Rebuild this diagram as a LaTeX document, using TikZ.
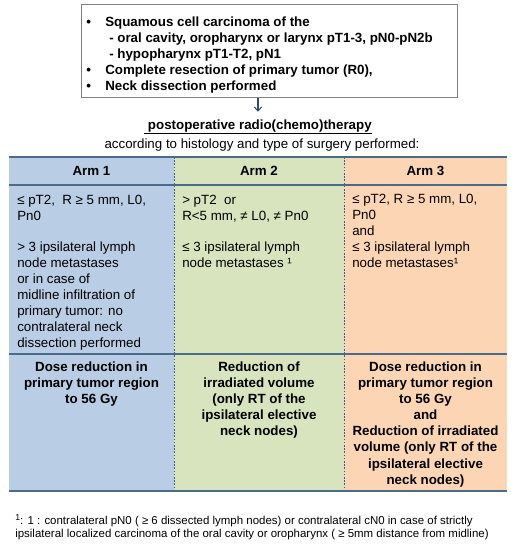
\documentclass[tikz,border=0pt]{standalone}
\usepackage{fontspec}
\setmainfont{Liberation Sans}
\usetikzlibrary{arrows.meta}
\definecolor{armblue}{HTML}{B9CDE5}
\definecolor{armgreen}{HTML}{D7E4BD}
\definecolor{armorange}{HTML}{FCD5B5}
\definecolor{rulecol}{HTML}{4A6B8C}
\definecolor{divcol}{HTML}{3B5F8F}
\definecolor{boxgray}{HTML}{808080}
\definecolor{arrowcol}{HTML}{2E4A75}
\newcommand{\fst}{\rule{0pt}{9pt}}
\newcommand{\sst}{\rule{0pt}{8pt}}
\begin{document}
\begin{tikzpicture}[x=0.75pt,y=-0.75pt,
  txt/.style={inner sep=0pt, align=left, font=\fontsize{10}{12}\selectfont},
  btxt/.style={inner sep=0pt, align=left, font=\fontsize{10}{12}\selectfont\bfseries},
  ctxt/.style={inner sep=0pt, align=center, font=\fontsize{10}{12.1}\selectfont\bfseries},
  foot/.style={inner sep=0pt, align=left, font=\fontsize{8.6}{9.75}\selectfont},
  critbox/.style={draw=boxgray, line width=1.1pt, fill=white, inner sep=0pt,
    minimum width=282pt, minimum height=69.75pt},
  arr/.style={draw=arrowcol, line width=0.8pt, -{Straight Barb[length=3pt,width=5.5pt]}},
  outerrule/.style={draw=rulecol, line width=1.5pt},
  innerrule/.style={draw=rulecol, line width=0.9pt},
  divline/.style={draw=divcol, line width=0.7pt, dash pattern=on 1.2pt off 1.2pt}
]
\useasboundingbox (0,0) rectangle (517,550);

% criteria box
\node[critbox, anchor=north west] (crit) at (81,4) {};
\node[btxt, anchor=north west] (critText) at (86,14) {%
\fst\makebox[14.25pt][l]{•}Squamous cell carcinoma of the\\
\hspace*{17.25pt}- oral cavity, oropharynx or larynx pT1-3, pN0-pN2b\\
\hspace*{17.25pt}- hypopharynx pT1-T2, pN1\\
\makebox[14.25pt][l]{•}Complete resection of primary tumor (R0),\\
\makebox[14.25pt][l]{•}Neck dissection performed};

% title and subtitle
\node[btxt, anchor=base] (title) at (258,129) {\underline{\ postoperative radio(chemo)therapy}};
\draw[arr] (crit.south -| title) -- ([yshift=5.5pt]title.north);
\node[txt, anchor=base] (subtitle) at (262,148) {according to histology and type of surgery performed:};

% table backgrounds
\fill[armblue] (9,157) rectangle (174,491);
\fill[armgreen] (174,157) rectangle (344,491);
\fill[armorange] (344,157) rectangle (507,491);
\draw[divline] (174,157) -- (174,491);
\draw[divline] (344,157) -- (344,491);
\draw[outerrule] (9,157) -- (507,157);
\draw[innerrule] (9,185) -- (507,185);
\draw[innerrule] (9,354) -- (507,354);
\draw[outerrule] (9,491) -- (507,491);

% headers
\node[btxt, anchor=base] (h1) at (91.5,175) {Arm 1};
\node[btxt, anchor=base] (h2) at (259,175) {Arm 2};
\node[btxt, anchor=base] (h3) at (425.5,175) {Arm 3};

% criteria
\node[txt, anchor=north west] (c1) at (17,192) {%
\fst≤ pT2,\ \ R ≥ 5 mm, L0,\\
Pn0\\[11.25pt]
> 3 ipsilateral lymph\\
node metastases\\
or in case of\\
midline infiltration of\\
primary tumor: no\\
contralateral neck\\
dissection performed};
\node[txt, anchor=north west] (c2) at (182,192) {%
\fst> pT2\ \ or\\
R<5 mm, ≠ L0, ≠ Pn0\\[11.25pt]
≤ 3 ipsilateral lymph\\
node metastases ¹};
\node[txt, anchor=north west] (c3) at (352,191) {%
\fst≤ pT2, R ≥ 5 mm, L0,\\
Pn0\\
and\\
≤ 3 ipsilateral lymph\\
node metastases¹};

% outcomes
\node[ctxt, anchor=north] (o1) at (91.5,359) {%
\fst Dose reduction in\\
primary tumor region\\
to 56 Gy};
\node[ctxt, anchor=north] (o2) at (259,359) {%
\fst Reduction of\\
irradiated volume\\
(only RT of the\\
ipsilateral elective\\
neck nodes)};
\node[ctxt, anchor=north] (o3) at (425.5,359) {%
\fst Dose reduction in\\
primary tumor region\\
to 56 Gy\\
and\\
Reduction of irradiated\\
volume (only RT of the\\
ipsilateral elective\\
neck nodes)};

% footnote
\node[foot, anchor=north west] (fn) at (15,513.3) {%
\sst\raisebox{3pt}{\fontsize{6.5}{6.5}\selectfont 1}: 1 : contralateral pN0 ( ≥ 6 dissected lymph nodes) or contralateral cN0 in case of strictly\\
ipsilateral localized carcinoma of the oral cavity or oropharynx ( ≥ 5mm distance from midline)};
\end{tikzpicture}
\end{document}
